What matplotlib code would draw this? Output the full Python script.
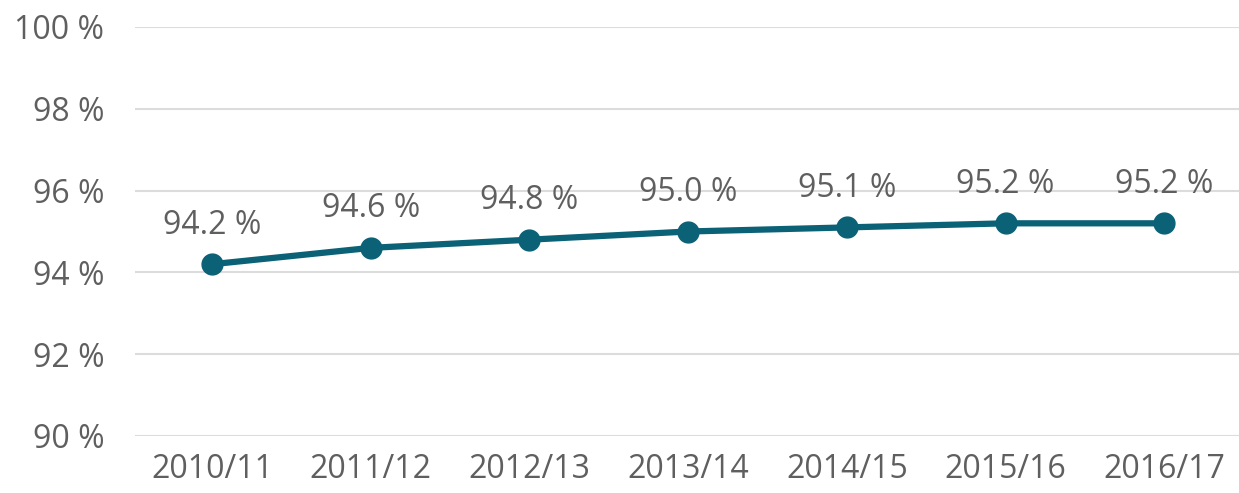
import matplotlib.pyplot as plt

years = ["2010/11", "2011/12", "2012/13", "2013/14", "2014/15", "2015/16", "2016/17"]
share = [94.2, 94.6, 94.8, 95.0, 95.1, 95.2, 95.2]
yticks = [90, 92, 94, 96, 98, 100]

plt.rcParams['font.family'] = ['Open Sans', 'DejaVu Sans']
grey = '#5f5f5f'
teal = '#0b6176'

fig = plt.figure(figsize=(12.39, 4.93), dpi=100)
ax = fig.add_axes([135 / 1239, 1 - 436 / 493, 1 - 135 / 1239, (436 - 27) / 493])

x = list(range(len(years)))
ax.plot(x, share, color=teal, lw=4.5, marker='o', ms=15, zorder=3)
for xi, v in zip(x, share):
    ax.annotate(f"{v:.1f} %", (xi, v), xytext=(0, 28), textcoords='offset points',
                ha='center', va='center', fontsize=23, color=grey)

ax.set_xlim(-0.485, 6.47)
ax.set_ylim(90, 100)
ax.set_yticks(yticks)
ax.set_yticklabels([f"{t} %" for t in yticks])
ax.set_xticks(x)
ax.set_xticklabels(years)
ax.grid(axis='y', color='#dcdcdc', lw=1.5)
ax.set_axisbelow(True)
for s in ax.spines.values():
    s.set_visible(False)
ax.tick_params(length=0, labelsize=23, colors=grey)
ax.tick_params(axis='y', pad=22)
ax.tick_params(axis='x', pad=12)

fig.savefig("out.png", dpi=100)
